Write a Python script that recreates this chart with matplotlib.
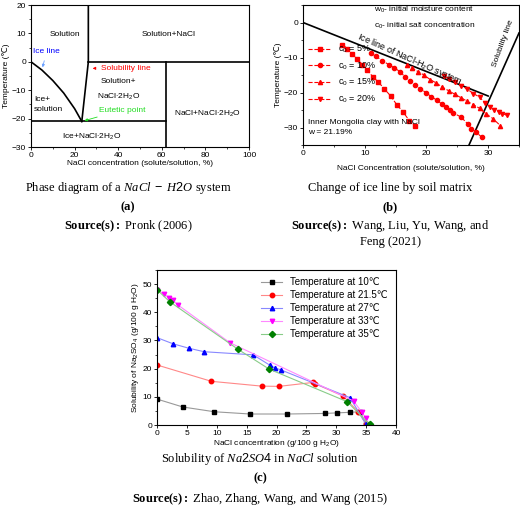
import numpy as np
import matplotlib
matplotlib.use("Agg")
import matplotlib.pyplot as plt
from matplotlib.ticker import MultipleLocator

plt.rcParams['font.family'] = ['Liberation Sans', 'DejaVu Sans']
plt.rcParams['mathtext.fontset'] = 'custom'
plt.rcParams['mathtext.rm'] = 'Liberation Sans'
plt.rcParams['mathtext.it'] = 'Liberation Serif:italic'
plt.rcParams['mathtext.bf'] = 'Liberation Serif:bold'

# panel a
ice_x = [0, 5, 10, 15, 20, 23.3]
ice_y = [0, -2.9, -6.6, -11.0, -16.5, -21]
# panel b
b5_x = [6.4,7.2,8,8.8,9.6,10.4,11.3,12.2,13.2,14.2,15.2,16.2,17.2,18.2]
b5_y = [-6.3,-7.5,-9,-10.5,-12,-13.5,-15.5,-17,-19,-21,-23.5,-25.5,-28,-29.5]
b10_x = [11,11.8,12.8,13.9,14.8,15.7,16.5,17.3,18.1,19,19.9,20.8,21.7,22.5,23.2,23.8,24.3,25.6,26.7,27.3,28,29]
b10_y = [-8.8,-9.6,-10.9,-12,-13,-14,-15.5,-16.6,-17.8,-18.9,-20,-21.2,-22.2,-23.3,-24.2,-25,-25.8,-27,-29,-30.3,-31.3,-32.8]
b15_x = [16.8,17.7,18.6,19.6,20.6,21.6,22.6,23.6,24.6,25.6,26.6,27.6,28.6,29.6,30.8,32]
b15_y = [-12,-13,-14,-15,-16.3,-17.3,-18.5,-19.5,-20.5,-21.5,-22.5,-23.5,-24.5,-26,-27.5,-29.5]
b20_x = [22.8,23.7,24.6,25.6,26.6,27.6,28.6,29.5,30.3,31,31.7,32.3,33]
b20_y = [-15.3,-16,-17,-18,-19,-20.3,-21.3,-23,-24,-25,-25.5,-26,-26.5]
# panel c
c10_x = [0,4.3,9.6,15.6,21.8,28.1,30.1,32.3,34.0,35.0]
c10_y = [9.2,6.4,4.7,3.9,3.9,4.1,4.3,4.5,4.7,0.2]
c215_x = [0,9.1,17.5,20.4,26.1,26.5,31.1,33.7,35.0]
c215_y = [21.3,15.5,13.8,13.7,15.1,14.6,10.3,4.7,0.2]
c27_x = [0,2.7,5.4,7.9,16.1,18.9,19.7,20.8,32.3,35.0]
c27_y = [31,28.8,27.2,26,24.9,21.2,20.3,19.5,9.7,0.2]
c33_x = [0,1.2,2.0,2.7,3.5,12.2,32.9,34.3,34.9]
c33_y = [48,46.5,45.2,44.2,42.6,29.2,8.5,4.5,2.6]
c35_x = [0,2.1,13.6,18.8,31.8,35.6]
c35_y = [48,43.8,26.8,19.8,8.3,0.2]

W, H = 520, 518
fig = plt.figure(figsize=(W/100, H/100), dpi=100)
def ax_at(l, r, t, b):
    return fig.add_axes([l/W, 1-b/H, (r-l)/W, (b-t)/H])
fs = 6
def style(ax):
    ax.tick_params(labelsize=fs, length=2, width=0.6, pad=1.5)
    ax.tick_params(which='minor', length=1.2, width=0.5)
    for s in ax.spines.values(): s.set_linewidth(0.8)

# ---- (a)
ax = ax_at(31, 249, 5, 147)
style(ax)
ax.set_xlim(0, 100); ax.set_ylim(-30, 20)
ax.xaxis.set_major_locator(MultipleLocator(20)); ax.xaxis.set_minor_locator(MultipleLocator(10))
ax.yaxis.set_major_locator(MultipleLocator(10)); ax.yaxis.set_minor_locator(MultipleLocator(5))
ax.plot(ice_x, ice_y, 'k-', lw=1.2)
ax.plot([23.3, 26.3, 26.3], [-21, 0, 20], 'k-', lw=1.2)
ax.plot([26.3, 100], [0, 0], 'k-', lw=1.2)
ax.plot([62, 62], [-30, 0], 'k-', lw=1.2)
ax.plot([0, 62], [-21, -21], 'k-', lw=1.2)
ax.set_xlabel('NaCl concentration (solute/solution, %)', fontsize=fs, labelpad=1)
ax.set_ylabel('Temperature (℃)', fontsize=fs, labelpad=1)
ax.text(15.5, 9, 'Solution', fontsize=fs, ha='center')
ax.text(63, 9, 'Solution+NaCl', fontsize=fs, ha='center')
ax.text(40, -7.5, 'Solution+', fontsize=fs, ha='center')
ax.text(40, -13, 'NaCl$\\cdot$2H$_2$O', fontsize=fs, ha='center')
ax.text(1.5, -15, 'Ice+\nsolution', fontsize=fs, ha='left', va='center', linespacing=1.6)
ax.text(81, -19, 'NaCl+NaCl$\\cdot$2H$_2$O', fontsize=fs, ha='center')
ax.text(28, -27, 'Ice+NaCl$\\cdot$2H$_2$O', fontsize=fs, ha='center')
ax.annotate('Ice line', xy=(5, -2.9), xytext=(1, 3), fontsize=fs, color='blue',
            arrowprops=dict(arrowstyle='-|>', color='#6aa0ff', lw=0.6, mutation_scale=4))
ax.annotate('Solubility line', xy=(27, -2.3), xytext=(32, -2.8), fontsize=fs, color='red',
            arrowprops=dict(arrowstyle='-|>', color='red', lw=0.6, mutation_scale=4))
ax.annotate('Eutetic point', xy=(23.3, -21), xytext=(31, -17.5), fontsize=fs, color='#22dd22',
            arrowprops=dict(arrowstyle='-|>', color='#22dd22', lw=0.6, mutation_scale=4))

# ---- (b)
ax = ax_at(303, 519, 5, 145)
style(ax)
ax.set_xlim(0, 35); ax.set_ylim(-35, 5)
ax.xaxis.set_major_locator(MultipleLocator(10)); ax.xaxis.set_minor_locator(MultipleLocator(5))
ax.yaxis.set_major_locator(MultipleLocator(10)); ax.yaxis.set_minor_locator(MultipleLocator(5))
ax.plot([0, 30], [0, -21], 'k-', lw=1.2)
ax.plot([26.9, 35], [-35, -3], 'k-', lw=1.2)
ax.set_xlabel('NaCl Concentration (solute/solution, %)', fontsize=fs, labelpad=6)
ax.set_ylabel('Temperature (℃)', fontsize=fs, labelpad=1)
for xs, ys, m, lab in [(b5_x, b5_y, 's', 'c$_0$ = 5%'), (b10_x, b10_y, 'o', 'c$_0$ = 10%'),
                       (b15_x, b15_y, '^', 'c$_0$ = 15%'), (b20_x, b20_y, 'v', 'c$_0$ = 20%')]:
    ax.plot(xs, ys, '--', color='red', marker=m, ms=3, lw=0.8, label=lab)
ax.legend(loc='upper left', bbox_to_anchor=(0.0, 0.76), fontsize=fs+0.5, frameon=False,
          handlelength=2.5, labelspacing=0.6, borderaxespad=0.2)
ax.text(0.8, -30, 'Inner Mongolia clay with NaCl\nw = 21.19%', fontsize=fs, va='center', linespacing=1.5)
ax.text(11.5, 3, 'w$_0$- initial moisture content', fontsize=fs)
ax.text(11.5, -1.5, 'c$_0$- initial salt concentration', fontsize=fs)
ax.text(8.5, -2.3, 'Ice line of NaCl-H$_2$O system', fontsize=fs+0.5, rotation=-24, va='top')
ax.text(32.5, -6, 'Solubility line', fontsize=fs, rotation=70, ha='center', va='center')

# ---- (c)
ax = ax_at(157, 396, 270, 425)
style(ax)
ax.set_xlim(0, 40); ax.set_ylim(0, 55)
ax.xaxis.set_major_locator(MultipleLocator(5))
ax.yaxis.set_major_locator(MultipleLocator(10)); ax.yaxis.set_minor_locator(MultipleLocator(5))
for xs, ys, c, lc, m, lab in [(c10_x, c10_y, 'black', '#999999', 's', 'Temperature at 10℃'),
                              (c215_x, c215_y, 'red', '#ff8888', 'o', 'Temperature at 21.5℃'),
                              (c27_x, c27_y, 'blue', '#8888ff', '^', 'Temperature at 27℃'),
                              (c33_x, c33_y, 'magenta', '#ff88ff', 'v', 'Temperature at 33℃'),
                              (c35_x, c35_y, 'green', '#88cc88', 'D', 'Temperature at 35℃')]:
    ax.plot(xs, ys, '-', color=lc, lw=0.8, marker=m, mfc=c, mec=c, ms=3.2, label=lab)
ax.legend(loc='upper right', bbox_to_anchor=(0.99, 0.99), fontsize=fs+1, frameon=False,
          handlelength=2.2, labelspacing=0.3, borderaxespad=0.2)
ax.set_xlabel('NaCl concentration (g/100 g H$_2$O)', fontsize=fs, labelpad=1)
ax.set_ylabel('Solubility of Na$_2$SO$_4$ (g/100 g H$_2$O)', fontsize=fs, labelpad=1)

# captions
ser = ['Liberation Serif', 'DejaVu Serif']
def cap(x, y, s, **kw):
    fig.text(x/W, 1-y/H, s, ha='center', va='center', family=ser, **kw)
cap(128, 188, 'Phase diagram of a $\\it{NaCl\\ -\\ H2O}$ system', fontsize=9)
cap(128, 207, '(a)', fontsize=9, weight='bold')
cap(128, 226, r'$\bf{Source(s):}$ Pronk (2006)', fontsize=9)
cap(390, 188, 'Change of ice line by soil matrix', fontsize=9)
cap(390, 207, '(b)', fontsize=9, weight='bold')
cap(390, 226, r'$\bf{Source(s):}$ Wang, Liu, Yu, Wang, and', fontsize=9)
cap(390, 242, 'Feng (2021)', fontsize=9)
cap(260, 459, 'Solubility of $\\it{Na2SO4}$ in $\\it{NaCl}$ solution', fontsize=9)
cap(260, 478, '(c)', fontsize=9, weight='bold')
cap(260, 499, r'$\bf{Source(s):}$ Zhao, Zhang, Wang, and Wang (2015)', fontsize=9)

fig.savefig('out.png', dpi=100)
